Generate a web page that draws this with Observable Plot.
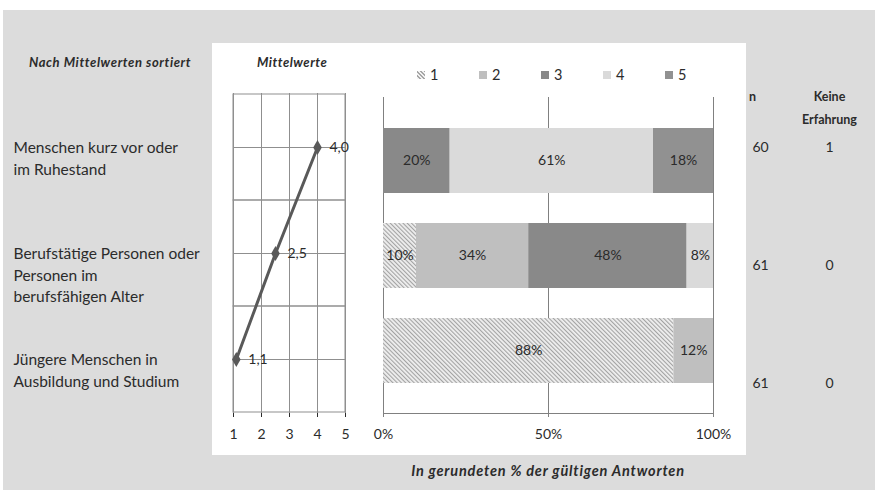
<!DOCTYPE html>
<html><head><meta charset="utf-8">
<script src="https://cdn.jsdelivr.net/npm/d3@7"></script>
<script src="https://cdn.jsdelivr.net/npm/@observablehq/plot@0.6"></script>
<style>
body{margin:0;width:875px;height:490px;background:#fff;font-family:Lato,sans-serif;color:#2b2b2b;position:relative;overflow:hidden}
#bg{position:absolute;left:3px;top:10px;right:0;bottom:0;background:#dcdcdc}
#panel{position:absolute;left:212px;top:43px;width:534px;height:412px;background:#fff}
.abs{position:absolute}
.hdr{font-weight:bold;font-style:italic;font-size:13px;letter-spacing:0.6px;white-space:nowrap}
#legend{display:flex;font-size:14.5px}
#legend .item{width:62px;display:flex;align-items:center}
#legend .sw{width:8px;height:8px;margin-right:5px}
svg{overflow:visible}
</style></head><body>
<div id="bg"></div><div id="panel"></div>
<div class="abs hdr" style="left:29px;top:54px">Nach Mittelwerten sortiert</div>
<div class="abs hdr" style="left:257px;top:54px;letter-spacing:0.5px">Mittelwerte</div>
<div id="legend" class="abs" style="left:417px;top:66px"></div>
<div id="chart1" class="abs" style="left:0;top:0"></div>
<div id="chart2" class="abs" style="left:370px;top:0"></div>
<div id="chart3" class="abs" style="left:740px;top:0"></div>
<div class="abs hdr" style="left:348px;width:400px;top:462px;text-align:center;font-size:14.5px;letter-spacing:0.8px">In gerundeten % der gültigen Antworten</div>
<script>
const categories = ["Menschen kurz vor oder\nim Ruhestand", "Berufstätige Personen oder\nPersonen im\nberufsfähigen Alter", "Jüngere Menschen in\nAusbildung und Studium"];
const means = [4.0, 2.5, 1.1];
const responses = ["1", "2", "3", "4", "5"];
const share1 = [0, 10, 88];
const share2 = [0, 34, 12];
const share3 = [20, 48, 0];
const share4 = [61, 8, 0];
const share5 = [18, 0, 0];
const nValues = [60, 61, 61];
const keineErfahrung = [1, 0, 0];
const meanTicks = [1, 2, 3, 4, 5];
const pctTicks = [0, 50, 100];
const columns = ["n", "Keine\nErfahrung"];

const colors = ["url(#hatch)", "#bfbfbf", "#898989", "#dadada", "#919191"];
const font = {background: "transparent", fontFamily: "Lato, sans-serif", fontSize: "14px", color: "#2b2b2b"};

// Legend
const legend = document.getElementById("legend");
responses.forEach((r, i) => {
  const it = document.createElement("div"); it.className = "item";
  const sw = document.createElement("span"); sw.className = "sw";
  sw.style.background = i === 0 ? "repeating-linear-gradient(45deg,#f2f2f2 0 1.5px,#a6a6a6 1.5px 3px)" : colors[i];
  it.appendChild(sw); it.appendChild(document.createTextNode(r));
  legend.appendChild(it);
});

// Mean chart
const meanData = categories.map((c, i) => ({cat: c, mean: means[i]}));
const fmt = d => d.toFixed(1).replace(".", ",");
const p1 = Plot.plot({
  width: 380, height: 455, marginLeft: 233, marginRight: 35, marginTop: 93, marginBottom: 42,
  style: font,
  x: {domain: [1, 5], ticks: meanTicks, tickSize: 4, tickPadding: 12, label: null, tickFormat: d => d},
  y: {type: "band", domain: categories, axis: null, padding: 0},
  marks: [
    Plot.cell(categories, {y: d => d, stroke: "#8f8f8f", fill: "none"}),
    Plot.ruleY(categories, {y: d => d, stroke: "#8f8f8f"}),
    Plot.ruleX(meanTicks, {x: d => d, stroke: "#8f8f8f"}),
    Plot.line(meanData, {x: "mean", y: "cat", stroke: "#595959", strokeWidth: 3}),
    Plot.dot(meanData, {x: "mean", y: "cat", symbol: "diamond", fill: "#595959", r: 4.5}),
    Plot.text(meanData, {x: "mean", y: "cat", text: d => fmt(d.mean), dx: 12, textAnchor: "start", fill: "#2b2b2b"}),
    Plot.text(categories, {y: d => d, text: d => d, frameAnchor: "left", dx: -220, textAnchor: "start", lineAnchor: "top", dy: -10, fontSize: 15.5, lineHeight: 1.4, fill: "#2b2b2b", style: "letter-spacing:0.7px"})
  ]
});
document.getElementById("chart1").appendChild(p1);

// Bar chart
const shares = [share1, share2, share3, share4, share5];
const barData = [];
categories.forEach((c, i) => responses.forEach((r, j) => {
  const v = shares[j][i];
  if (v > 0) barData.push({cat: c, resp: r, value: v});
}));
const p2 = Plot.plot({
  width: 380, height: 455, marginLeft: 13, marginRight: 37, marginTop: 97, marginBottom: 42,
  style: font,
  x: {domain: [0, 1], axis: null},
  y: {type: "band", domain: categories, axis: null, padding: 0.32},
  color: {domain: responses, range: colors},
  marks: [
    Plot.ruleX(pctTicks, {x: d => d / 100, stroke: "#808080"}),
    Plot.frame({anchor: "bottom", stroke: "#808080"}),
    Plot.axisX(pctTicks.map(d => d / 100), {tickFormat: d => Math.round(d * 100) + "%", tickSize: 4, tickPadding: 12, stroke: "#808080", fill: "#2b2b2b", label: null}),
    Plot.barX(barData, Plot.stackX({x: "value", y: "cat", fill: "resp", offset: "normalize"})),
    Plot.text(barData, Plot.stackX({x: "value", y: "cat", z: "resp", offset: "normalize", text: d => d.value + "%", fill: "#2b2b2b"}))
  ]
});
const defs = d3.select(p2).insert("defs", ":first-child");
const pat = defs.append("pattern").attr("id", "hatch").attr("patternUnits", "userSpaceOnUse")
  .attr("width", 3).attr("height", 3).attr("patternTransform", "rotate(-45)");
pat.append("rect").attr("width", 3).attr("height", 3).attr("fill", "#efefef");
pat.append("line").attr("x1", 0.5).attr("y1", 0).attr("x2", 0.5).attr("y2", 3).attr("stroke", "#a3a3a3").attr("stroke-width", 1.2);
document.getElementById("chart2").appendChild(p2);

// n table
const tableData = categories.map((c, i) => ({cat: c, n: nValues[i], keine: keineErfahrung[i]}));
const p3 = Plot.plot({
  width: 135, height: 490, marginLeft: 12, marginRight: 46, marginTop: 88, marginBottom: 48,
  style: font,
  x: {type: "point", domain: columns, axis: null, padding: 0},
  y: {type: "band", domain: categories, axis: null, padding: 0},
  marks: [
    Plot.text(columns, {x: d => d, text: d => d, frameAnchor: "top", lineAnchor: "top", dy: -3, fontWeight: "bold", fontSize: 12.5, lineHeight: 1.8, textAnchor: "middle"}),
    Plot.text(tableData, {x: () => columns[0], y: "cat", text: "n", textAnchor: "start"}),
    Plot.text(tableData, {x: () => columns[1], y: "cat", text: "keine"})
  ]
});
document.getElementById("chart3").appendChild(p3);
</script>
</body></html>
